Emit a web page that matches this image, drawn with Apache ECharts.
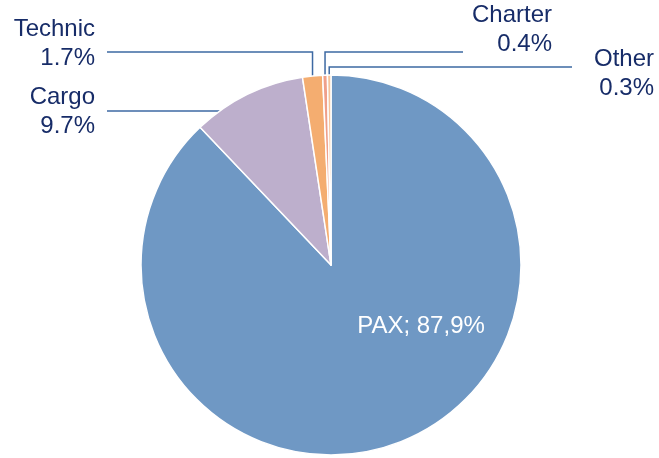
<!DOCTYPE html>
<html>
<head>
    <meta charset="utf-8">
    <script src="https://cdn.jsdelivr.net/npm/echarts@6/dist/echarts.min.js"></script>
</head>
<body style="margin:0">
    <div id="main" style="width:659px;height:458px"></div>

    <script type="text/javascript">
        var categories = ['PAX', 'Cargo', 'Technic', 'Charter', 'Other'];
        var shares = [87.9, 9.7, 1.7, 0.4, 0.3];
        var colors = ['#6f98c4', '#bdafcc', '#f4ad70', '#efa08a', '#f6c49a'];

        var cx = 331, cy = 265, r = 190;

        // where each label sits and how its leader line runs
        var spots = [
            {x: 421, y: 326, align: 'center'},
            {x: 95, y: 111.5, lineY: 111, lineEnd: 107, straight: true},
            {x: 95, y: 43.5, lineY: 52, lineEnd: 107},
            {x: 552, y: 30, lineY: 52, lineEnd: 463},
            {x: 654, y: 74, lineY: 67, lineEnd: 572}
        ];

        var myChart = echarts.init(document.getElementById('main'));

        var data = [];
        for (var i = 0; i < categories.length; i++) {
            var item = {
                name: categories[i],
                value: shares[i],
                itemStyle: {color: colors[i]}
            };
            if (i === 0) {
                item.label = {
                    position: 'inside',
                    color: '#ffffff',
                    formatter: function (p) {
                        return p.name + '; ' + p.value.toFixed(1).replace('.', ',') + '%';
                    }
                };
                item.labelLine = {show: false};
            }
            data.push(item);
        }

        var option = {
            animation: false,
            series: [{
                type: 'pie',
                center: [cx, cy],
                radius: r,
                startAngle: 90,
                clockwise: true,
                avoidLabelOverlap: false,
                itemStyle: {borderColor: '#ffffff', borderWidth: 1.5},
                label: {
                    position: 'outside',
                    fontFamily: 'Liberation Sans, Arial, sans-serif',
                    fontSize: 24,
                    lineHeight: 29,
                    color: '#172c68',
                    formatter: function (p) {
                        return p.name + '\n' + p.value.toFixed(1) + '%';
                    }
                },
                labelLine: {
                    show: true,
                    length: 20,
                    length2: 20,
                    lineStyle: {color: '#3d69a3', width: 1.5}
                },
                labelLayout: function (params) {
                    var s = spots[params.dataIndex];
                    var res = {x: s.x, y: s.y, align: s.align || 'right', verticalAlign: 'middle'};
                    if (s.lineY != null && params.labelLinePoints) {
                        var a = params.labelLinePoints[0];
                        if (s.straight) {
                            var ax = cx - Math.sqrt(r * r - (s.lineY - cy) * (s.lineY - cy));
                            res.labelLinePoints = [[ax, s.lineY], [ax, s.lineY], [s.lineEnd, s.lineY]];
                        } else {
                            res.labelLinePoints = [[a[0], a[1]], [a[0], s.lineY], [s.lineEnd, s.lineY]];
                        }
                    }
                    return res;
                },
                data: data
            }]
        };

        myChart.setOption(option);
    </script>
</body>
</html>
